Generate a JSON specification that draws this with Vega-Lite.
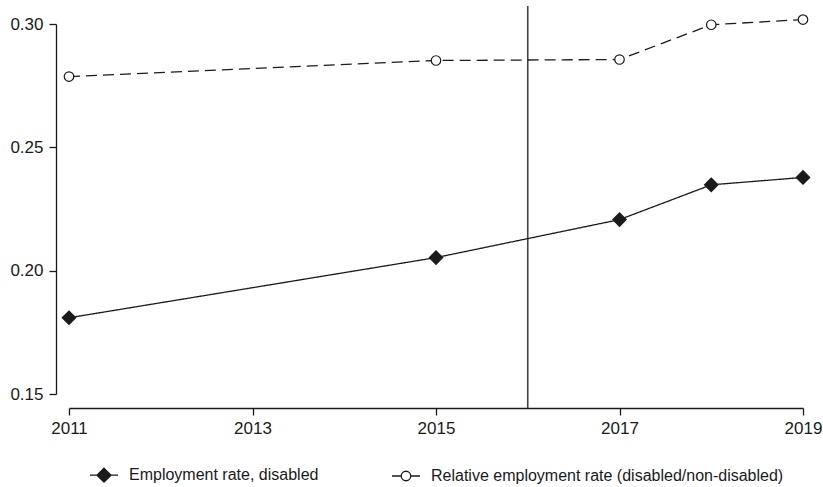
{
  "$schema": "https://vega.github.io/schema/vega-lite/v6.json",
  "autosize": {"type": "none"},
  "padding": {"left": 69, "top": 24, "right": 20, "bottom": 93},
  "width": 734,
  "height": 370,
  "background": "white",
  "config": {
    "view": {"stroke": null},
    "font": "Liberation Sans",
    "axis": {
      "labelFont": "Liberation Sans",
      "labelFontSize": 17,
      "labelColor": "#1a1a1a",
      "domainColor": "#1a1a1a",
      "tickColor": "#1a1a1a",
      "domainWidth": 1.3,
      "tickWidth": 1.3,
      "tickSize": 7,
      "grid": false,
      "labelFlush": false,
      "title": null
    },
    "legend": {
      "labelFont": "Liberation Sans",
      "labelFontSize": 16,
      "labelColor": "#1a1a1a",
      "labelLimit": 500
    }
  },
  "datasets": {
    "series": [
      {"year": 2011, "series": "Employment rate, disabled", "value": 0.1809},
      {"year": 2015, "series": "Employment rate, disabled", "value": 0.2053},
      {"year": 2017, "series": "Employment rate, disabled", "value": 0.2207},
      {"year": 2018, "series": "Employment rate, disabled", "value": 0.2348},
      {"year": 2019, "series": "Employment rate, disabled", "value": 0.2378},
      {"year": 2011, "series": "Relative employment rate (disabled/non-disabled)", "value": 0.2787},
      {"year": 2015, "series": "Relative employment rate (disabled/non-disabled)", "value": 0.2852},
      {"year": 2017, "series": "Relative employment rate (disabled/non-disabled)", "value": 0.2856},
      {"year": 2018, "series": "Relative employment rate (disabled/non-disabled)", "value": 0.2997},
      {"year": 2019, "series": "Relative employment rate (disabled/non-disabled)", "value": 0.3018}
    ],
    "event": [
      {"year": 2016, "low": 0.1443, "high": 0.3073}
    ]
  },
  "layer": [
    {
      "data": {"name": "event"},
      "mark": {"type": "rule", "color": "#444444", "strokeWidth": 1.6},
      "encoding": {
        "x": {"field": "year", "type": "quantitative", "scale": {"domain": [2011, 2019], "nice": false, "zero": false}},
        "y": {"field": "low", "type": "quantitative", "scale": {"domain": [0.15, 0.30], "nice": false, "zero": false}},
        "y2": {"field": "high"}
      }
    },
    {
      "data": {"name": "series"},
      "mark": {"type": "line", "color": "#1a1a1a", "strokeWidth": 1.3},
      "encoding": {
        "x": {
          "field": "year", "type": "quantitative",
          "scale": {"domain": [2011, 2019], "nice": false, "zero": false},
          "axis": {"values": [2011, 2013, 2015, 2017, 2019], "format": "d", "offset": 14, "labelPadding": 5}
        },
        "y": {
          "field": "value", "type": "quantitative",
          "scale": {"domain": [0.15, 0.30], "nice": false, "zero": false},
          "axis": {"values": [0.15, 0.20, 0.25, 0.30], "format": ".2f", "offset": 13, "labelPadding": 6}
        },
        "detail": {"field": "series", "type": "nominal"},
        "strokeDash": {
          "condition": {"test": "datum.series === 'Employment rate, disabled'", "value": [1, 0]},
          "value": [11, 6]
        }
      }
    },
    {
      "data": {"name": "series"},
      "mark": {"type": "point", "stroke": "#1a1a1a", "strokeWidth": 1.2, "opacity": 1, "filled": false},
      "encoding": {
        "x": {"field": "year", "type": "quantitative"},
        "y": {"field": "value", "type": "quantitative"},
        "fill": {
          "condition": {"test": "datum.series === 'Employment rate, disabled'", "value": "#1a1a1a"},
          "value": "#ffffff"
        },
        "size": {
          "condition": {"test": "datum.series === 'Employment rate, disabled'", "value": 180},
          "value": 90
        },
        "shape": {
          "condition": {"test": "datum.series === 'Employment rate, disabled'", "value": "diamond"},
          "value": "circle"
        }
      }
    },
    {
      "data": {"name": "series"},
      "mark": {"type": "point", "strokeWidth": 1.3, "size": 0, "opacity": 1, "filled": true},
      "encoding": {
        "x": {"field": "year", "type": "quantitative"},
        "y": {"field": "value", "type": "quantitative"},
        "fill": {
          "field": "series", "type": "nominal",
          "scale": {"domain": ["Employment rate, disabled", "Relative employment rate (disabled/non-disabled)"], "range": ["#1a1a1a", "#ffffff"]},
          "legend": {
            "title": null,
            "orient": "none",
            "direction": "horizontal",
            "legendX": 20,
            "legendY": 436,
            "padding": 0,
            "symbolSize": 784,
            "symbolStrokeWidth": 1.3,
            "labelOffset": 10,
            "columnPadding": 70
          }
        },
        "stroke": {
          "field": "series", "type": "nominal",
          "scale": {"domain": ["Employment rate, disabled", "Relative employment rate (disabled/non-disabled)"], "range": ["#1a1a1a", "#1a1a1a"]},
          "legend": {
            "title": null,
            "orient": "none",
            "direction": "horizontal",
            "legendX": 20,
            "legendY": 436,
            "padding": 0,
            "symbolSize": 784,
            "symbolStrokeWidth": 1.3,
            "labelOffset": 10,
            "columnPadding": 70
          }
        },
        "shape": {
          "field": "series", "type": "nominal",
          "scale": {
            "domain": ["Employment rate, disabled", "Relative employment rate (disabled/non-disabled)"],
            "range": ["M-1,0L1,0M0,-0.5L0.5,0L0,0.5L-0.5,0Z", "M-1,0L-0.34,0M0.34,0L1,0M0.34,0A0.34,0.34 0 0 1 0,0.34A0.34,0.34 0 0 1 -0.34,0A0.34,0.34 0 0 1 0,-0.34A0.34,0.34 0 0 1 0.34,0Z"]
          },
          "legend": {
            "title": null,
            "orient": "none",
            "direction": "horizontal",
            "legendX": 20,
            "legendY": 436,
            "padding": 0,
            "symbolSize": 784,
            "symbolStrokeWidth": 1.3,
            "labelOffset": 10,
            "columnPadding": 70
          }
        }
      }
    }
  ]
}
